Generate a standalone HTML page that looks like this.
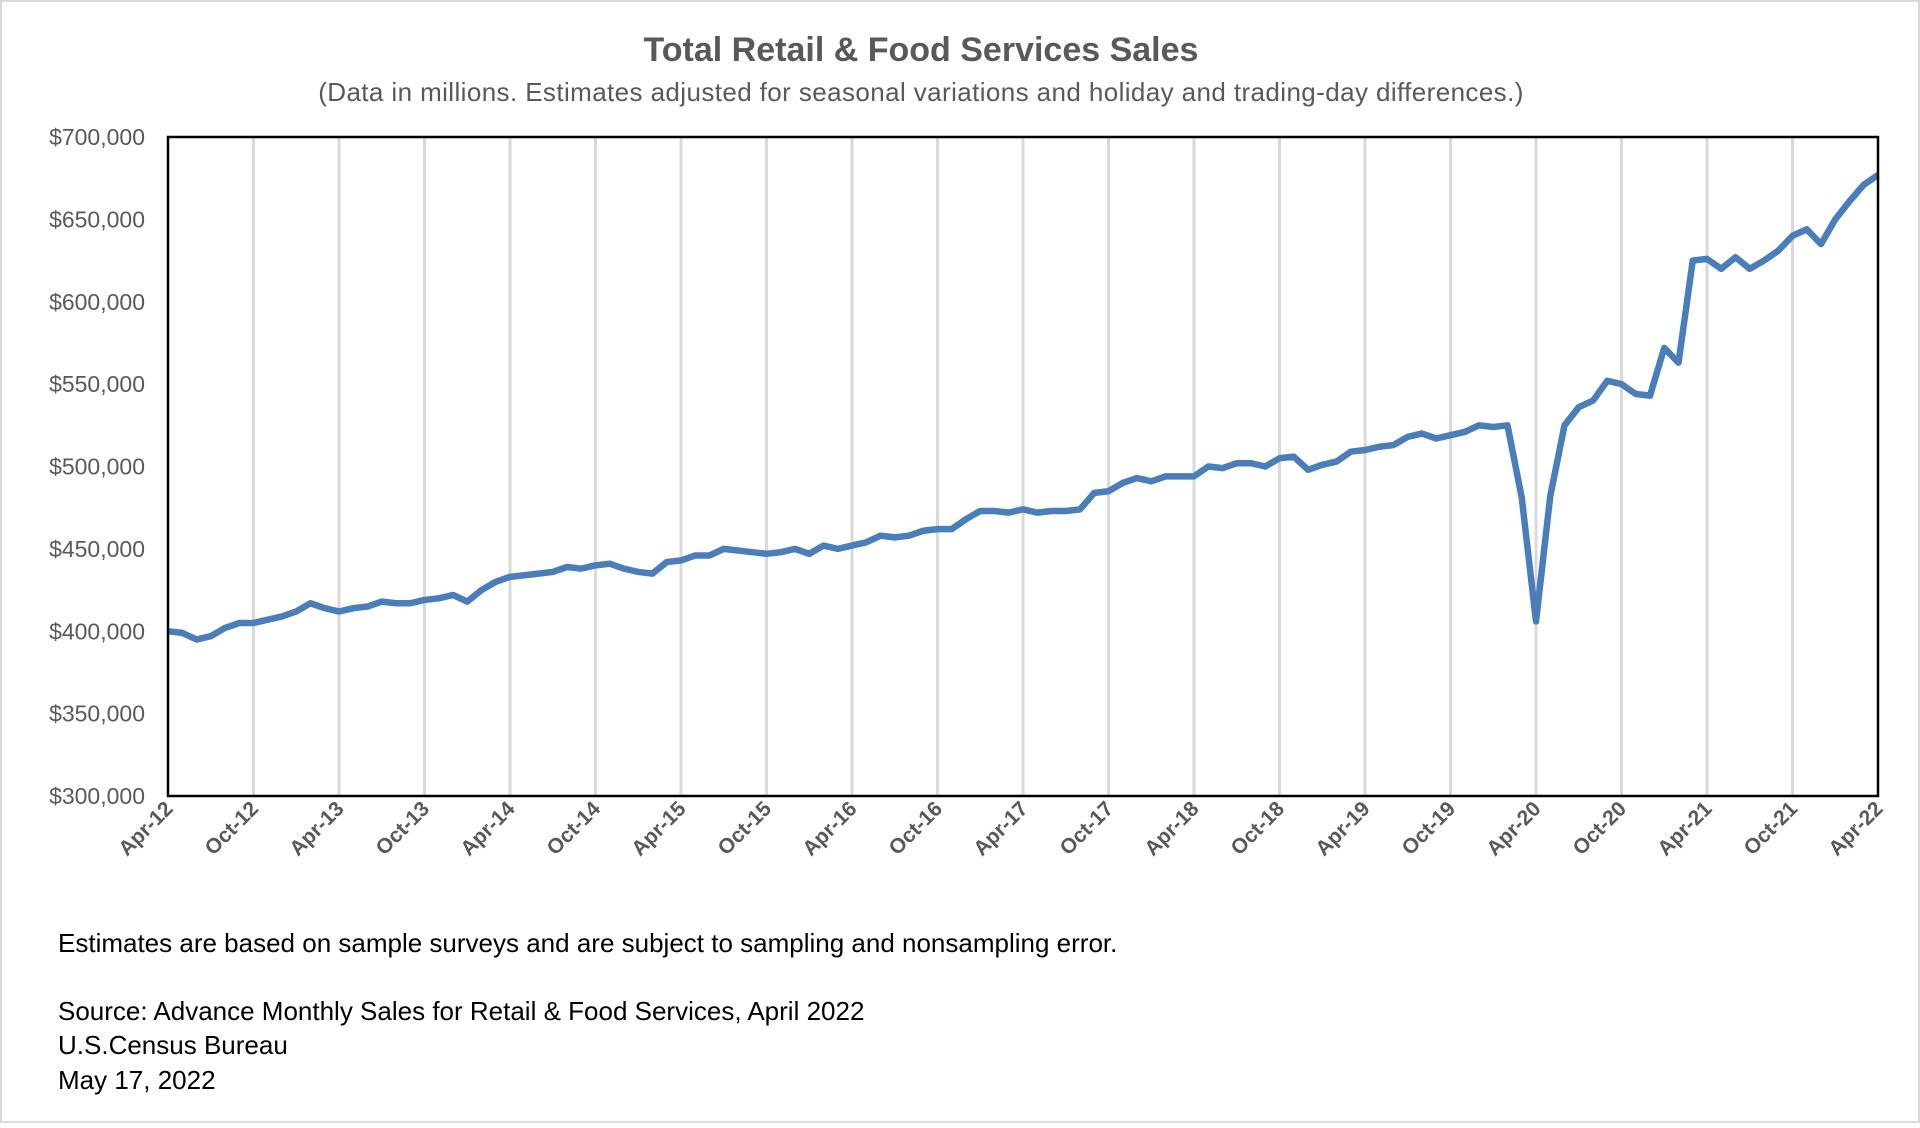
<!DOCTYPE html>
<html><head><meta charset="utf-8"><style>
html,body{margin:0;padding:0;background:#fff;}
body{width:1920px;height:1123px;overflow:hidden;font-family:"Liberation Sans",sans-serif;}
</style></head><body>
<svg width="1920" height="1123" viewBox="0 0 1920 1123" xmlns="http://www.w3.org/2000/svg">
<rect x="1" y="1" width="1918" height="1121" fill="#fff" stroke="#d9d9d9" stroke-width="2"/>
<text x="921" y="61" text-anchor="middle" font-size="34" font-weight="bold" fill="#595959">Total Retail &amp; Food Services Sales</text>
<text x="921" y="101" text-anchor="middle" font-size="26" letter-spacing="0.4" fill="#595959">(Data in millions. Estimates adjusted for seasonal variations and holiday and trading-day differences.)</text>
<g id="grid"></g><g id="yt"></g><g id="xt"></g>
<polyline id="line" fill="none" stroke="#4a7ebb" stroke-width="6.5" stroke-linejoin="round"/>
<rect x="168" y="137" width="1710" height="659" fill="none" stroke="#000" stroke-width="2.5"/>
<g font-size="26" fill="#000">
<text x="58" y="952">Estimates are based on sample surveys and are subject to sampling and nonsampling error.</text>
<text x="58" y="1020">Source: Advance Monthly Sales for Retail &amp; Food Services, April 2022</text>
<text x="58" y="1054">U.S.Census Bureau</text>
<text x="58" y="1089">May 17, 2022</text>
</g>
</svg>
<script>
const yTicks=[300000,350000,400000,450000,500000,550000,600000,650000,700000];
const xLabels=["Apr-12","Oct-12","Apr-13","Oct-13","Apr-14","Oct-14","Apr-15","Oct-15","Apr-16","Oct-16","Apr-17","Oct-17","Apr-18","Oct-18","Apr-19","Oct-19","Apr-20","Oct-20","Apr-21","Oct-21","Apr-22"];
const sales=[400,399,395,397,402,405,405,407,409,412,417,414,412,414,415,418,417,417,419,420,422,418,425,430,433,434,435,436,439,438,440,441,438,436,435,442,443,446,446,450,449,448,447,448,450,447,452,450,452,454,458,457,458,461,462,462,468,473,473,472,474,472,473,473,474,484,485,490,493,491,494,494,494,500,499,502,502,500,505,506,498,501,503,509,510,512,513,518,520,517,519,521,525,524,525,481,406,482,525,536,540,552,550,544,543,572,563,625,626,620,627,620,625,631,640,644,635,650,661,671,677];
const NS="http://www.w3.org/2000/svg";
const L=168,R=1878,T=137,B=796,ymin=300000,ymax=700000;
const n=sales.length;
const xs=i=>L+(R-L)*i/(n-1);
const ys=v=>B-(B-T)*(v-ymin)/(ymax-ymin);
const grid=document.getElementById('grid'),yt=document.getElementById('yt'),xt=document.getElementById('xt');
xLabels.forEach((lab,k)=>{
 const x=xs(k*6);
 if(k>0&&k<xLabels.length-1){
  const g=document.createElementNS(NS,'line');
  g.setAttribute('x1',x);g.setAttribute('x2',x);g.setAttribute('y1',T);g.setAttribute('y2',B);
  g.setAttribute('stroke','#d9d9d9');g.setAttribute('stroke-width','3');
  
  
  grid.appendChild(g);
 }
 const t=document.createElementNS(NS,'text');
 t.setAttribute('transform','translate('+(x+6)+','+(B+14)+') rotate(-45)');
 t.setAttribute('text-anchor','end');t.setAttribute('font-size','21');t.setAttribute('font-weight','bold');t.setAttribute('fill','#595959');
 t.textContent=lab;
 
 
 xt.appendChild(t);
});
yTicks.forEach(v=>{
 const t=document.createElementNS(NS,'text');
 t.setAttribute('x',145);t.setAttribute('y',ys(v)+8);t.setAttribute('text-anchor','end');
 t.setAttribute('font-size','23');t.setAttribute('fill','#595959');
 t.textContent='$'+v.toLocaleString('en-US');
 
 
 yt.appendChild(t);
});
document.getElementById('line').setAttribute('points',sales.map((v,i)=>xs(i)+','+ys(v*1000)).join(' '));
</script>
</body></html>
